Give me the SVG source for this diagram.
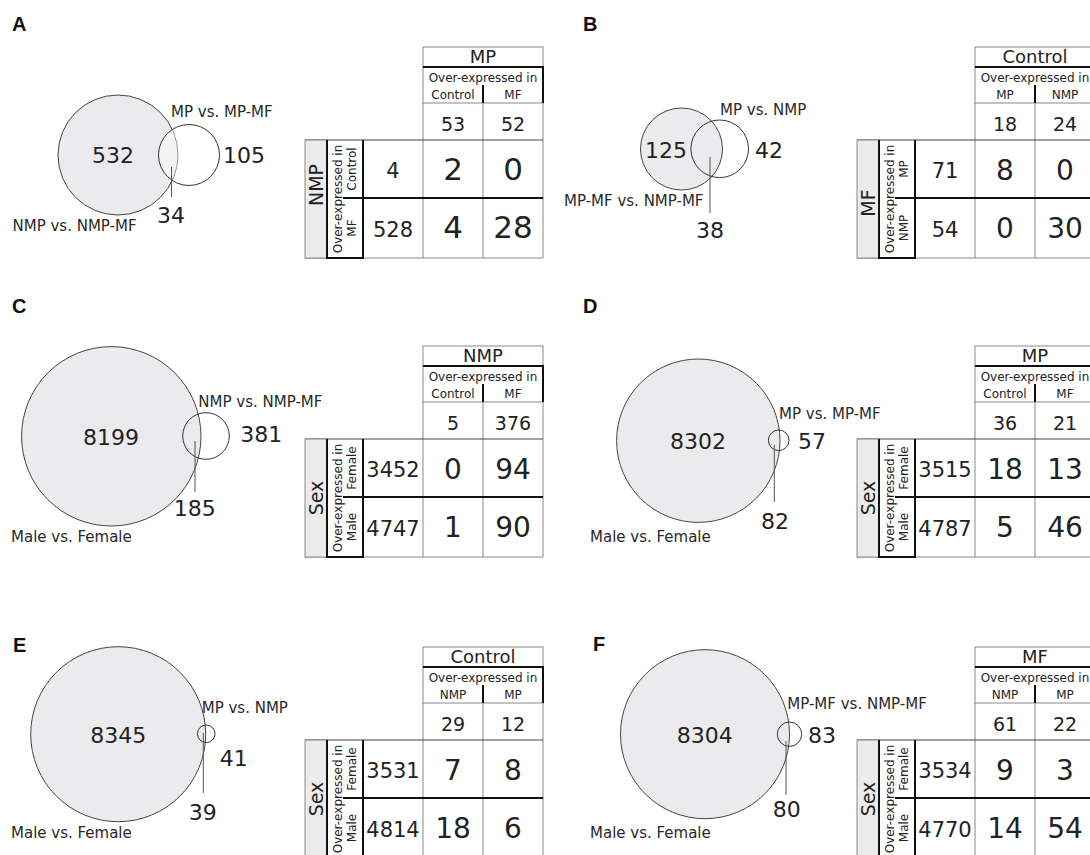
<svg xmlns="http://www.w3.org/2000/svg" width="1090" height="855" viewBox="0 0 1090 855">
<style>
text{font-family:"DejaVu Sans",Verdana,sans-serif;fill:#222}
.pl{font-family:"Liberation Sans",Arial,sans-serif;font-weight:bold;font-size:20px;fill:#111}
.lbl{font-size:15px;fill:#2a2a2a}
.vn{font-size:22px;text-anchor:middle}
.big{fill:#ebebed;stroke:#444;stroke-width:1}
.sm{fill:none;stroke:#333;stroke-width:1}
.ptr{stroke:#555;stroke-width:1}
.thin{fill:none;stroke:#888;stroke-width:1}
.row{stroke:#444;stroke-width:1.2}
.thick{fill:none;stroke:#111;stroke-width:2}
.labbox{fill:#ebebeb;stroke:#888;stroke-width:1}
.h{font-size:18px;text-anchor:middle}
.oe{font-size:12px;text-anchor:middle}
.sub{font-size:12px;text-anchor:middle}
.tot{font-size:19px;text-anchor:middle}
.st{font-size:21px;text-anchor:middle}
.d{font-size:28px;text-anchor:middle}
.side{font-size:19px;text-anchor:middle}
</style>
<defs>
<g id="grid">
<rect class="thin" x="118" y="0" width="120" height="20"/>
<rect class="thin" x="118" y="20" width="120" height="36"/>
<path class="thick" d="M118,20H238V56"/>
<line class="thick" x1="178" y1="38" x2="178" y2="56"/>
<path class="thin" d="M118,56V211M178,56V211M238,56V211M0,211H238"/>
<line class="row" x1="0" y1="93" x2="238" y2="93"/>
<line class="thick" x1="38" y1="151" x2="238" y2="151"/>
<rect class="labbox" x="0" y="93" width="22" height="118"/>
<path class="thick" d="M22,93V211H58V93"/>
<text transform="translate(36.5,152) rotate(-90)" class="oe">Over-expressed in</text>
</g>
</defs>

<text class="pl" x="12" y="31">A</text>
<text class="pl" x="583" y="31">B</text>
<text class="pl" x="12" y="313">C</text>
<text class="pl" x="583" y="313">D</text>
<text class="pl" x="13" y="652">E</text>
<text class="pl" x="593" y="651">F</text>

<!-- Venn A -->
<g id="vennA">
<circle class="big" cx="118" cy="155" r="60"/>
<circle cx="189" cy="155" r="30.5" fill="#fff" fill-opacity="0.45" stroke="#333"/>
<text class="vn" x="113" y="163">532</text>
<text class="vn" x="244" y="163">105</text>
<text class="lbl" x="171" y="117">MP vs. MP-MF</text>
<text class="lbl" x="12.5" y="231">NMP vs. NMP-MF</text>
<text class="vn" x="171" y="223">34</text>
</g>
<!-- Venn B -->
<g id="vennB">
<circle class="big" cx="681.5" cy="149" r="41"/>
<circle class="sm" cx="719.7" cy="148.8" r="28.8"/>
<text class="vn" x="666" y="158">125</text>
<text class="vn" x="769" y="158">42</text>
<text class="lbl" x="720" y="115">MP vs. NMP</text>
<text class="lbl" x="564" y="205.7">MP-MF vs. NMP-MF</text>
<text class="vn" x="710" y="238.3">38</text>
</g>
<!-- Venn C -->
<g id="vennC">
<circle class="big" cx="111.3" cy="436.3" r="89.7"/>
<circle class="sm" cx="206" cy="436" r="23.3"/>
<text class="vn" x="111" y="445">8199</text>
<text class="vn" x="261.3" y="441.7">381</text>
<text class="lbl" x="198.3" y="406.7">NMP vs. NMP-MF</text>
<text class="vn" x="194.7" y="516">185</text>
<text class="lbl" x="11" y="541.7">Male vs. Female</text>
</g>
<!-- Venn D -->
<g id="vennD">
<circle class="big" cx="698.3" cy="440.7" r="81.7"/>
<circle class="sm" cx="778.7" cy="440.3" r="10.3"/>
<text class="vn" x="698" y="449.3">8302</text>
<text class="vn" x="812" y="449">57</text>
<text class="lbl" x="779" y="419.3">MP vs. MP-MF</text>
<text class="vn" x="775" y="529.3">82</text>
<text class="lbl" x="590" y="541.7">Male vs. Female</text>
</g>
<!-- Venn E -->
<g id="vennE">
<circle class="big" cx="118.2" cy="734.2" r="87.5"/>
<circle class="sm" cx="206.2" cy="733.8" r="8.8"/>
<text class="vn" x="118.3" y="743.3">8345</text>
<text class="lbl" x="201.7" y="712.7">MP vs. NMP</text>
<text class="vn" x="233.7" y="766">41</text>
<text class="vn" x="202.7" y="820">39</text>
<text class="lbl" x="11" y="838.3">Male vs. Female</text>
</g>
<!-- Venn F -->
<g id="vennF">
<circle class="big" cx="705" cy="734.2" r="84.5"/>
<circle class="sm" cx="789.5" cy="734.2" r="12.2"/>
<text class="vn" x="704.7" y="743.3">8304</text>
<text class="vn" x="822" y="742.7">83</text>
<text class="lbl" x="787.3" y="709">MP-MF vs. NMP-MF</text>
<text class="vn" x="786.7" y="816.7">80</text>
<text class="lbl" x="590" y="838.3">Male vs. Female</text>
</g>

<g id="connectors">
<line class="ptr" x1="171.5" y1="167" x2="171.5" y2="197"/>
<line class="ptr" x1="710" y1="157" x2="710" y2="213"/>
<line class="ptr" x1="195" y1="441" x2="195" y2="492"/>
<line class="ptr" x1="774.3" y1="445" x2="774.3" y2="502"/>
<line class="ptr" x1="203.3" y1="733" x2="203.3" y2="793"/>
<line class="ptr" x1="786" y1="741" x2="786" y2="795"/>
</g>

<!-- Table A -->
<g id="tableA" transform="translate(305,47)">
<use href="#grid"/>
<text class="h" x="178" y="16">MP</text>
<text class="oe" x="178" y="35">Over-expressed in</text>
<text class="sub" x="148" y="52">Control</text>
<text class="sub" x="208" y="52">MF</text>
<text class="tot" x="148" y="84">53</text>
<text class="tot" x="208" y="84">52</text>
<text class="side" transform="translate(17.5,138) rotate(-90)">NMP</text>
<text class="sub" transform="translate(51,122) rotate(-90)">Control</text>
<text class="sub" transform="translate(51,181) rotate(-90)">MF</text>
<text class="st" x="88" y="131">4</text>
<text class="st" x="88" y="190">528</text>
<text class="d" x="148" y="133" style="font-size:31px">2</text>
<text class="d" x="208" y="133" style="font-size:31px">0</text>
<text class="d" x="148" y="191" style="font-size:31px">4</text>
<text class="d" x="208" y="191" style="font-size:31px">28</text>
</g>
<!-- Table B -->
<g id="tableB" transform="translate(857,47)">
<use href="#grid"/>
<text class="h" x="178" y="16">Control</text>
<text class="oe" x="178" y="35">Over-expressed in</text>
<text class="sub" x="148" y="52">MP</text>
<text class="sub" x="208" y="52">NMP</text>
<text class="tot" x="148" y="84">18</text>
<text class="tot" x="208" y="84">24</text>
<text class="side" transform="translate(17.5,156) rotate(-90)">MF</text>
<text class="sub" transform="translate(51,122) rotate(-90)">MP</text>
<text class="sub" transform="translate(51,181) rotate(-90)">NMP</text>
<text class="st" x="88" y="131">71</text>
<text class="st" x="88" y="190">54</text>
<text class="d" x="148" y="133">8</text>
<text class="d" x="208" y="133">0</text>
<text class="d" x="148" y="191">0</text>
<text class="d" x="208" y="191">30</text>
</g>
<!-- Table C -->
<g id="tableC" transform="translate(305,346)">
<use href="#grid"/>
<text class="h" x="178" y="16">NMP</text>
<text class="oe" x="178" y="35">Over-expressed in</text>
<text class="sub" x="148" y="52">Control</text>
<text class="sub" x="208" y="52">MF</text>
<text class="tot" x="148" y="84">5</text>
<text class="tot" x="208" y="84">376</text>
<text class="side" transform="translate(17.5,152) rotate(-90)">Sex</text>
<text class="sub" transform="translate(51,122) rotate(-90)">Female</text>
<text class="sub" transform="translate(51,181) rotate(-90)">Male</text>
<text class="st" x="88" y="131">3452</text>
<text class="st" x="88" y="190">4747</text>
<text class="d" x="148" y="133">0</text>
<text class="d" x="208" y="133">94</text>
<text class="d" x="148" y="191">1</text>
<text class="d" x="208" y="191">90</text>
</g>
<!-- Table D -->
<g id="tableD" transform="translate(857,346)">
<use href="#grid"/>
<text class="h" x="178" y="16">MP</text>
<text class="oe" x="178" y="35">Over-expressed in</text>
<text class="sub" x="148" y="52">Control</text>
<text class="sub" x="208" y="52">MF</text>
<text class="tot" x="148" y="84">36</text>
<text class="tot" x="208" y="84">21</text>
<text class="side" transform="translate(17.5,152) rotate(-90)">Sex</text>
<text class="sub" transform="translate(51,122) rotate(-90)">Female</text>
<text class="sub" transform="translate(51,181) rotate(-90)">Male</text>
<text class="st" x="88" y="131">3515</text>
<text class="st" x="88" y="190">4787</text>
<text class="d" x="148" y="133">18</text>
<text class="d" x="208" y="133">13</text>
<text class="d" x="148" y="191">5</text>
<text class="d" x="208" y="191">46</text>
</g>
<!-- Table E -->
<g id="tableE" transform="translate(305,647)">
<use href="#grid"/>
<text class="h" x="178" y="16">Control</text>
<text class="oe" x="178" y="35">Over-expressed in</text>
<text class="sub" x="148" y="52">NMP</text>
<text class="sub" x="208" y="52">MP</text>
<text class="tot" x="148" y="84">29</text>
<text class="tot" x="208" y="84">12</text>
<text class="side" transform="translate(17.5,152) rotate(-90)">Sex</text>
<text class="sub" transform="translate(51,122) rotate(-90)">Female</text>
<text class="sub" transform="translate(51,181) rotate(-90)">Male</text>
<text class="st" x="88" y="131">3531</text>
<text class="st" x="88" y="190">4814</text>
<text class="d" x="148" y="133">7</text>
<text class="d" x="208" y="133">8</text>
<text class="d" x="148" y="191">18</text>
<text class="d" x="208" y="191">6</text>
</g>
<!-- Table F -->
<g id="tableF" transform="translate(857,647)">
<use href="#grid"/>
<text class="h" x="178" y="16">MF</text>
<text class="oe" x="178" y="35">Over-expressed in</text>
<text class="sub" x="148" y="52">NMP</text>
<text class="sub" x="208" y="52">MP</text>
<text class="tot" x="148" y="84">61</text>
<text class="tot" x="208" y="84">22</text>
<text class="side" transform="translate(17.5,152) rotate(-90)">Sex</text>
<text class="sub" transform="translate(51,122) rotate(-90)">Female</text>
<text class="sub" transform="translate(51,181) rotate(-90)">Male</text>
<text class="st" x="88" y="131">3534</text>
<text class="st" x="88" y="190">4770</text>
<text class="d" x="148" y="133">9</text>
<text class="d" x="208" y="133">3</text>
<text class="d" x="148" y="191">14</text>
<text class="d" x="208" y="191">54</text>
</g>
</svg>
